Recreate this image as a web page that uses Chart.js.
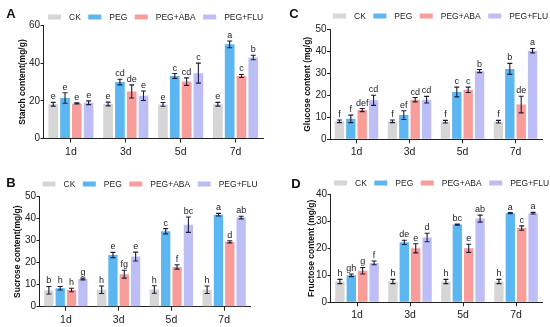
<!DOCTYPE html>
<html>
<head>
<meta charset="utf-8">
<script src="https://cdn.jsdelivr.net/npm/chart.js@4.4.1/dist/chart.umd.min.js"></script>
<style>
  body { margin: 0; background: #fff; width: 550px; height: 327px; position: relative; overflow: hidden; }
  .panel { position: absolute; }
</style>
</head>
<body>
<div class="panel" style="left:0;top:0;width:275px;height:163px"><canvas id="chartA"></canvas></div>
<div class="panel" style="left:275px;top:0;width:275px;height:163px"><canvas id="chartC"></canvas></div>
<div class="panel" style="left:0;top:163px;width:275px;height:164px"><canvas id="chartB"></canvas></div>
<div class="panel" style="left:275px;top:163px;width:275px;height:164px"><canvas id="chartD"></canvas></div>
<script>
const days = ["1d", "3d", "5d", "7d"];
const groups = ["CK", "PEG", "PEG+ABA", "PEG+FLU"];
const barColors = ["#d6d6d6", "#5cb6f1", "#f89d99", "#bebef7"];

// A - starch, one row per group (CK, PEG, PEG+ABA, PEG+FLU)
const starchMeans = [[18.2, 18.3, 18.1, 18.2], [21.5, 30, 33.2, 50], [18.6, 25, 30.2, 33.2], [19, 22.7, 34.7, 43]];
const starchErrors = [[1, 1, 1, 1], [2.8, 1.5, 1.3, 1.8], [0.3, 3.5, 2, 0.8], [1, 2.5, 5.3, 1.2]];
const starchLetters = [["e", "e", "e", "e"], ["e", "cd", "c", "a"], ["e", "de", "cd", "c"], ["e", "e", "c", "b"]];

// B - sucrose
const sucroseMeans = [[7.5, 7.7, 7.8, 7.7], [8.4, 23.5, 34.3, 41.8], [7.6, 14.8, 18.1, 29.5], [12.6, 22.8, 37.3, 40.5]];
const sucroseErrors = [[1.7, 1.7, 1.7, 1.7], [0.8, 1.2, 1.2, 0.6], [0.8, 1.8, 1, 0.5], [0.4, 2, 3.5, 0.6]];
const sucroseLetters = [["b", "h", "h", "h"], ["h", "e", "c", "a"], ["h", "fg", "f", "d"], ["g", "e", "bc", "ab"]];

// C - glucose
const glucoseMeans = [[8.2, 8.2, 8, 8], [9.3, 11, 21.5, 32], [13.3, 18, 22.5, 15.8], [17.7, 18, 31, 40.3]];
const glucoseErrors = [[0.6, 0.6, 0.6, 0.6], [1.7, 2, 2.2, 2.5], [0.7, 1, 1.2, 3.8], [2.3, 1.5, 0.7, 1]];
const glucoseLetters = [["f", "f", "f", "f"], ["f", "ef", "c", "b"], ["def", "cd", "c", "de"], ["cd", "cd", "b", "a"]];

// D - fructose
const fructoseMeans = [[7.7, 7.7, 7.7, 7.7], [10, 22.2, 28.8, 33], [11.7, 20, 20, 27.5], [14.6, 24, 31, 33]];
const fructoseErrors = [[0.8, 0.8, 0.8, 0.8], [0.5, 0.8, 0.2, 0.2], [1.2, 1.7, 1.5, 0.8], [0.7, 1.6, 1.3, 0.3]];
const fructoseLetters = [["h", "h", "h", "h"], ["gh", "de", "bc", "a"], ["g", "e", "e", "c"], ["f", "d", "ab", "a"]];

const FONT = "'Liberation Sans', Arial, sans-serif";
const INK = "#222";

const panelDecor = {
  id: "panelDecor",
  afterDatasetsDraw(chart) {
    const ctx = chart.ctx;
    const y = chart.scales.y;
    ctx.save();
    ctx.strokeStyle = "#1d1d3a";
    ctx.lineWidth = 1.1;
    ctx.fillStyle = INK;
    ctx.font = "9px " + FONT;
    ctx.textAlign = "center";
    ctx.textBaseline = "alphabetic";
    chart.data.datasets.forEach((ds, i) => {
      chart.getDatasetMeta(i).data.forEach((bar, j) => {
        const v = ds.data[j], e = ds.errs[j];
        const yt = y.getPixelForValue(v + e);
        const yb = y.getPixelForValue(v - e);
        ctx.beginPath();
        ctx.moveTo(bar.x, yt); ctx.lineTo(bar.x, yb);
        ctx.moveTo(bar.x - 2.5, yt); ctx.lineTo(bar.x + 2.5, yt);
        ctx.moveTo(bar.x - 2.5, yb); ctx.lineTo(bar.x + 2.5, yb);
        ctx.stroke();
        ctx.fillText(ds.marks[j], bar.x, yt - 3);
      });
    });
    ctx.restore();
  },
  afterDraw(chart, args, opts) {
    const ctx = chart.ctx;
    ctx.save();
    // panel letter
    ctx.fillStyle = "#111";
    ctx.font = "bold 13px " + FONT;
    ctx.textAlign = "center";
    ctx.textBaseline = "middle";
    ctx.fillText(opts.letter, opts.letterX, opts.letterY);
    // legend
    ctx.font = "8.5px " + FONT;
    ctx.textAlign = "left";
    let x = chart.chartArea.left + opts.legendDx;
    chart.data.datasets.forEach((ds) => {
      ctx.fillStyle = ds.backgroundColor;
      ctx.fillRect(x, opts.legendY - 2.5, 13, 5);
      x += 13 + 8;
      ctx.fillStyle = INK;
      ctx.fillText(ds.label, x, opts.legendY + 0.5);
      x += ctx.measureText(ds.label).width + 7.5;
    });
    ctx.restore();
  },
};

function makePanel(id, p) {
  const datasets = groups.map((g, i) => ({
    label: g,
    data: p.means[i],
    errs: p.errors[i],
    marks: p.letters[i],
    backgroundColor: barColors[i],
    borderWidth: 0,
    categoryPercentage: 0.86,
    barPercentage: 0.82,
  }));
  const xHeight = 22;
  return new Chart(document.getElementById(id), {
    type: "bar",
    data: { labels: days, datasets: datasets },
    options: {
      responsive: true,
      maintainAspectRatio: false,
      animation: false,
      devicePixelRatio: 1,
      layout: {
        padding: { left: 0, top: p.top, right: p.w - p.right, bottom: p.h - p.bottom - xHeight },
      },
      plugins: {
        legend: { display: false },
        tooltip: { enabled: false },
        panelDecor: p,
      },
      scales: {
        x: {
          grid: { display: true, drawOnChartArea: false, offset: false, color: INK, tickLength: 4 },
          border: { color: INK, width: 1 },
          ticks: { font: { size: 10.5, family: FONT }, color: INK, padding: 3, maxRotation: 0 },
          afterFit(s) { s.height = xHeight; },
        },
        y: {
          min: 0,
          max: p.yMax,
          ticks: { stepSize: p.yStep, font: { size: 10, family: FONT }, color: INK, padding: 0.5 },
          grid: { display: true, drawOnChartArea: false, color: INK, tickLength: 3 },
          border: { color: INK, width: 1 },
          title: {
            display: true,
            text: p.title,
            color: "#111",
            font: { size: 8.5, weight: "bold", family: FONT },
            padding: { top: p.titleX - 5.1, bottom: 0 },
          },
          afterFit(s) { s.width = p.left; },
        },
      },
    },
    plugins: [panelDecor],
  });
}

makePanel("chartA", {
  means: starchMeans, errors: starchErrors, letters: starchLetters,
  title: "Starch content(mg/g)", yMax: 60, yStep: 20,
  w: 275, h: 163, left: 43.5, right: 263, top: 25.5, bottom: 138.5,
  titleX: 23, letter: "A", letterX: 11, letterY: 14, legendY: 17, legendDx: 4.5,
});
makePanel("chartC", {
  means: glucoseMeans, errors: glucoseErrors, letters: glucoseLetters,
  title: "Glucose content (mg/g)", yMax: 50, yStep: 10,
  w: 275, h: 163, left: 55, right: 267, top: 29.3, bottom: 139.3,
  titleX: 32.5, letter: "C", letterX: 19, letterY: 14, legendY: 16, legendDx: 3,
});
makePanel("chartB", {
  means: sucroseMeans, errors: sucroseErrors, letters: sucroseLetters,
  title: "Sucrose content(mg/g)", yMax: 50, yStep: 10,
  w: 275, h: 164, left: 39.5, right: 250.5, top: 33.7, bottom: 143.7,
  titleX: 18, letter: "B", letterX: 11, letterY: 20.5, legendY: 21, legendDx: 3,
});
makePanel("chartD", {
  means: fructoseMeans, errors: fructoseErrors, letters: fructoseLetters,
  title: "Fructose content (mg/g)", yMax: 40, yStep: 10,
  w: 275, h: 164, left: 55.5, right: 267.5, top: 31.3, bottom: 139.3,
  titleX: 36.5, letter: "D", letterX: 21, letterY: 21, legendY: 20, legendDx: 3.5,
});
</script>
</body>
</html>
